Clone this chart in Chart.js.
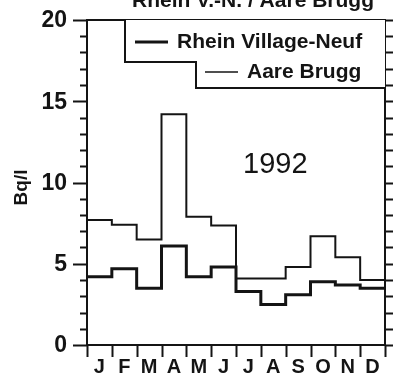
<!DOCTYPE html>
<html>
<head>
<meta charset="utf-8">
<script src="https://cdn.jsdelivr.net/npm/chart.js@4/dist/chart.umd.min.js"></script>
<style>
  html, body { margin: 0; padding: 0; background: #fff; }
  #wrap { width: 394px; height: 376px; }
</style>
</head>
<body>
<div id="wrap"><canvas id="chart" width="394" height="376"></canvas></div>
<script>
const months = ['J', 'F', 'M', 'A', 'M', 'J', 'J', 'A', 'S', 'O', 'N', 'D']
const rhein = [4.2, 4.7, 3.5, 6.1, 4.2, 4.8, 3.3, 2.5, 3.1, 3.9, 3.7, 3.5]
const aare = [7.7, 7.4, 6.5, 14.2, 7.9, 7.35, 4.1, 4.1, 4.8, 6.7, 5.4, 4.0]
const yLabels = [0, 5, 10, 15, 20]

const INK = '#141414'
const FONT = '"Liberation Sans", Arial, sans-serif'

// each month is a flat step from its start to the start of the next month
const steps = (vals) => vals.map((v, i) => ({ x: i, y: v })).concat({ x: vals.length, y: vals[vals.length - 1] })

const decor = {
  id: 'decor',
  afterDraw(chart) {
    const ctx = chart.ctx
    const ca = chart.chartArea
    const xs = chart.scales.x
    const ys = chart.scales.y
    ctx.save()
    ctx.strokeStyle = INK
    ctx.fillStyle = INK

    // frame
    ctx.lineWidth = 2
    ctx.strokeRect(ca.left, ca.top, ca.right - ca.left, ca.bottom - ca.top)

    // y ticks, left outward and right outward
    for (let v = 0; v <= 20; v++) {
      const y = Math.round(ys.getPixelForValue(v)) + 0.5
      const major = yLabels.includes(v)
      ctx.beginPath()
      ctx.moveTo(ca.left - (major ? 14 : 7), y)
      ctx.lineTo(ca.left, y)
      ctx.moveTo(ca.right, y)
      ctx.lineTo(ca.right + 8, y)
      ctx.stroke()
    }
    // y labels
    ctx.font = 'bold 23px ' + FONT
    ctx.textAlign = 'right'
    ctx.textBaseline = 'middle'
    yLabels.forEach(v => ctx.fillText(String(v), ca.left - 20, ys.getPixelForValue(v) + 1))

    // month boundary ticks, downward
    for (let i = 0; i <= months.length; i++) {
      const x = Math.round(xs.getPixelForValue(i)) + 0.5
      ctx.beginPath()
      ctx.moveTo(x, ca.bottom)
      ctx.lineTo(x, ca.bottom + 12)
      ctx.stroke()
    }

    // legend box (stepped outline)
    const bx1 = ca.left + 38, bx2 = ca.left + 109
    const by1 = ca.top + 42, by2 = ca.top + 68
    ctx.fillStyle = '#fff'
    ctx.beginPath()
    ctx.moveTo(bx1, ca.top)
    ctx.lineTo(bx1, by1)
    ctx.lineTo(bx2, by1)
    ctx.lineTo(bx2, by2)
    ctx.lineTo(ca.right, by2)
    ctx.lineTo(ca.right, ca.top)
    ctx.closePath()
    ctx.fill()
    ctx.lineWidth = 2
    ctx.beginPath()
    ctx.moveTo(bx1, ca.top)
    ctx.lineTo(bx1, by1)
    ctx.lineTo(bx2, by1)
    ctx.lineTo(bx2, by2)
    ctx.lineTo(ca.right, by2)
    ctx.stroke()

    ctx.fillStyle = INK
    ctx.font = 'bold 21px ' + FONT
    ctx.textAlign = 'left'
    ctx.textBaseline = 'alphabetic'
    // Rhein entry
    ctx.lineWidth = 3
    ctx.beginPath()
    ctx.moveTo(bx1 + 10, ca.top + 22)
    ctx.lineTo(bx1 + 43, ca.top + 22)
    ctx.stroke()
    ctx.fillText('Rhein Village-Neuf', bx1 + 52, ca.top + 28)
    // Aare entry
    ctx.lineWidth = 1.5
    ctx.beginPath()
    ctx.moveTo(bx2 + 9, ca.top + 52)
    ctx.lineTo(bx2 + 42, ca.top + 52)
    ctx.stroke()
    ctx.fillText('Aare Brugg', bx2 + 51, ca.top + 58)

    // year
    ctx.font = '29px ' + FONT
    ctx.fillText('1992', ca.left + 156, ys.getPixelForValue(10.6))

    // cut-off title above the frame
    ctx.font = 'bold 21px ' + FONT
    ctx.textAlign = 'center'
    ctx.fillText('Rhein V.-N. / Aare Brugg', ca.left + 166, 7)

    // y axis title
    ctx.translate(22, (ca.top + ca.bottom) / 2 + 5)
    ctx.rotate(-Math.PI / 2)
    ctx.font = 'bold 19px ' + FONT
    ctx.textBaseline = 'middle'
    ctx.fillText('Bq/l', 0, 0)
    ctx.restore()
  }
}

new Chart(document.getElementById('chart'), {
  type: 'line',
  data: {
    datasets: [
      {
        label: 'Rhein Village-Neuf',
        data: steps(rhein),
        stepped: 'before',
        borderColor: INK,
        borderWidth: 3,
        pointRadius: 0,
        fill: false
      },
      {
        label: 'Aare Brugg',
        data: steps(aare),
        stepped: 'before',
        borderColor: INK,
        borderWidth: 2,
        pointRadius: 0,
        fill: false
      }
    ]
  },
  options: {
    responsive: false,
    animation: false,
    layout: { padding: { top: 20, right: 9, left: 0, bottom: 0 } },
    plugins: { legend: { display: false }, tooltip: { enabled: false } },
    scales: {
      x: {
        type: 'linear',
        min: 0,
        max: 12,
        afterBuildTicks: (scale) => { scale.ticks = months.map((m, i) => ({ value: i + 0.5 })) },
        afterFit: (scale) => { scale.height = 31 },
        grid: { display: false, drawTicks: false },
        border: { display: false },
        ticks: {
          autoSkip: false,
          maxRotation: 0,
          padding: 10,
          color: INK,
          font: { family: FONT, size: 20, weight: 'bold' },
          callback: (v, i) => months[i]
        }
      },
      y: {
        min: 0,
        max: 20,
        afterFit: (scale) => { scale.width = 87 },
        grid: { display: false, drawTicks: false },
        border: { display: false },
        ticks: { display: false }
      }
    }
  },
  plugins: [decor]
})
</script>
</body>
</html>
